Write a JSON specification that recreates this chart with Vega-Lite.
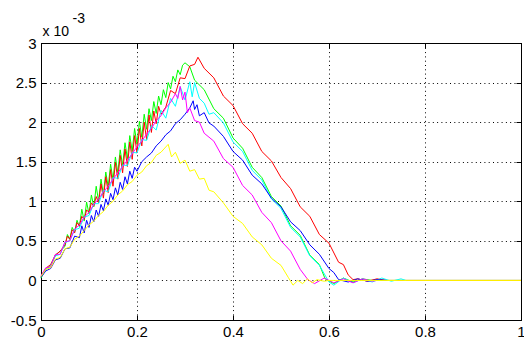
{
  "$schema": "https://vega.github.io/schema/vega-lite/v6.json",
  "width": 480,
  "height": 277,
  "autosize": {"type": "none"},
  "padding": {"left": 41, "top": 43, "right": 3, "bottom": 19},
  "background": "white",
  "config": {
    "view": {"stroke": "#000", "strokeWidth": 1},
    "axis": {
      "labelFont": "Liberation Sans",
      "labelFontSize": 15,
      "labelColor": "#000",
      "titleFont": "Liberation Sans",
      "titleFontWeight": "normal",
      "titleColor": "#000",
      "domainColor": "#000",
      "tickColor": "#000",
      "tickSize": -5,
      "gridColor": "#000",
      "gridOpacity": 1,
      "gridDash": [1, 3.3],
      "gridWidth": 1
    }
  },
  "datasets": {
    "green": [
      {"x": 0, "y": 0.03}, {"x": 0.01, "y": 0.14}, {"x": 0.02, "y": 0.19}, {"x": 0.03, "y": 0.32}, {"x": 0.04, "y": 0.37},
      {"x": 0.05, "y": 0.43}, {"x": 0.055, "y": 0.58}, {"x": 0.06, "y": 0.52}, {"x": 0.065, "y": 0.67}, {"x": 0.07, "y": 0.61},
      {"x": 0.075, "y": 0.76}, {"x": 0.08, "y": 0.68}, {"x": 0.085, "y": 0.9}, {"x": 0.09, "y": 0.75}, {"x": 0.095, "y": 0.99},
      {"x": 0.1, "y": 0.84}, {"x": 0.105, "y": 1.08}, {"x": 0.11, "y": 0.93}, {"x": 0.115, "y": 1.19}, {"x": 0.12, "y": 1.0},
      {"x": 0.125, "y": 1.28}, {"x": 0.13, "y": 1.09}, {"x": 0.135, "y": 1.37}, {"x": 0.14, "y": 1.18}, {"x": 0.145, "y": 1.47},
      {"x": 0.15, "y": 1.27}, {"x": 0.155, "y": 1.56}, {"x": 0.16, "y": 1.36}, {"x": 0.165, "y": 1.65}, {"x": 0.17, "y": 1.45},
      {"x": 0.175, "y": 1.74}, {"x": 0.18, "y": 1.54}, {"x": 0.185, "y": 1.83}, {"x": 0.19, "y": 1.63}, {"x": 0.195, "y": 1.92},
      {"x": 0.2, "y": 1.72}, {"x": 0.205, "y": 2.01}, {"x": 0.21, "y": 1.81}, {"x": 0.215, "y": 2.1}, {"x": 0.22, "y": 1.91},
      {"x": 0.225, "y": 2.17}, {"x": 0.23, "y": 2.02}, {"x": 0.235, "y": 2.26}, {"x": 0.24, "y": 2.11}, {"x": 0.245, "y": 2.33},
      {"x": 0.25, "y": 2.22}, {"x": 0.255, "y": 2.41}, {"x": 0.26, "y": 2.31}, {"x": 0.265, "y": 2.5}, {"x": 0.27, "y": 2.42},
      {"x": 0.275, "y": 2.58}, {"x": 0.28, "y": 2.51}, {"x": 0.285, "y": 2.66}, {"x": 0.29, "y": 2.6}, {"x": 0.295, "y": 2.72},
      {"x": 0.3, "y": 2.75}, {"x": 0.31, "y": 2.7}, {"x": 0.32, "y": 2.53}, {"x": 0.34, "y": 2.41}, {"x": 0.36, "y": 2.17},
      {"x": 0.38, "y": 2.05}, {"x": 0.4, "y": 1.8}, {"x": 0.42, "y": 1.67}, {"x": 0.44, "y": 1.43}, {"x": 0.46, "y": 1.3},
      {"x": 0.48, "y": 1.06}, {"x": 0.5, "y": 0.94}, {"x": 0.52, "y": 0.69}, {"x": 0.54, "y": 0.57}, {"x": 0.56, "y": 0.32},
      {"x": 0.58, "y": 0.2}, {"x": 0.592, "y": 0.02}, {"x": 0.61, "y": -0.04}, {"x": 0.63, "y": 0.03}, {"x": 0.65, "y": -0.02},
      {"x": 0.67, "y": 0.02}, {"x": 0.69, "y": 0}, {"x": 1, "y": 0}
    ],
    "red": [
      {"x": 0, "y": 0.05}, {"x": 0.01, "y": 0.155}, {"x": 0.02, "y": 0.2}, {"x": 0.03, "y": 0.32}, {"x": 0.04, "y": 0.37},
      {"x": 0.05, "y": 0.45}, {"x": 0.055, "y": 0.56}, {"x": 0.06, "y": 0.52}, {"x": 0.065, "y": 0.64}, {"x": 0.07, "y": 0.6},
      {"x": 0.075, "y": 0.73}, {"x": 0.08, "y": 0.69}, {"x": 0.085, "y": 0.81}, {"x": 0.09, "y": 0.77}, {"x": 0.095, "y": 0.89},
      {"x": 0.1, "y": 0.86}, {"x": 0.105, "y": 0.98}, {"x": 0.11, "y": 0.94}, {"x": 0.115, "y": 1.06}, {"x": 0.12, "y": 0.98},
      {"x": 0.125, "y": 1.22}, {"x": 0.13, "y": 1.04}, {"x": 0.135, "y": 1.31}, {"x": 0.14, "y": 1.11}, {"x": 0.145, "y": 1.4},
      {"x": 0.15, "y": 1.19}, {"x": 0.155, "y": 1.49}, {"x": 0.16, "y": 1.28}, {"x": 0.165, "y": 1.58}, {"x": 0.17, "y": 1.36},
      {"x": 0.175, "y": 1.66}, {"x": 0.18, "y": 1.44}, {"x": 0.185, "y": 1.75}, {"x": 0.19, "y": 1.53}, {"x": 0.195, "y": 1.83},
      {"x": 0.2, "y": 1.61}, {"x": 0.205, "y": 1.92}, {"x": 0.21, "y": 1.7}, {"x": 0.215, "y": 2.0}, {"x": 0.22, "y": 1.78},
      {"x": 0.225, "y": 2.09}, {"x": 0.23, "y": 1.87}, {"x": 0.235, "y": 2.14}, {"x": 0.24, "y": 1.98}, {"x": 0.245, "y": 2.2},
      {"x": 0.25, "y": 2.1}, {"x": 0.26, "y": 2.19}, {"x": 0.27, "y": 2.4}, {"x": 0.28, "y": 2.36}, {"x": 0.29, "y": 2.56},
      {"x": 0.3, "y": 2.55}, {"x": 0.31, "y": 2.71}, {"x": 0.32, "y": 2.73}, {"x": 0.327, "y": 2.82}, {"x": 0.34, "y": 2.68},
      {"x": 0.36, "y": 2.56}, {"x": 0.38, "y": 2.33}, {"x": 0.4, "y": 2.21}, {"x": 0.42, "y": 1.98}, {"x": 0.44, "y": 1.86},
      {"x": 0.46, "y": 1.63}, {"x": 0.48, "y": 1.51}, {"x": 0.5, "y": 1.3}, {"x": 0.52, "y": 1.16}, {"x": 0.54, "y": 0.93},
      {"x": 0.56, "y": 0.81}, {"x": 0.58, "y": 0.58}, {"x": 0.6, "y": 0.47}, {"x": 0.62, "y": 0.23}, {"x": 0.63, "y": 0.2},
      {"x": 0.64, "y": 0.07}, {"x": 0.65, "y": 0.01}, {"x": 0.66, "y": 0.02}, {"x": 0.68, "y": -0.01}, {"x": 0.7, "y": 0.02},
      {"x": 0.72, "y": 0}, {"x": 1, "y": 0}
    ],
    "cyan": [
      {"x": 0, "y": 0.04}, {"x": 0.01, "y": 0.14}, {"x": 0.02, "y": 0.18}, {"x": 0.03, "y": 0.31}, {"x": 0.04, "y": 0.33},
      {"x": 0.05, "y": 0.48}, {"x": 0.06, "y": 0.5}, {"x": 0.07, "y": 0.64}, {"x": 0.08, "y": 0.66}, {"x": 0.09, "y": 0.8},
      {"x": 0.1, "y": 0.82}, {"x": 0.11, "y": 0.97}, {"x": 0.12, "y": 0.97}, {"x": 0.13, "y": 1.14}, {"x": 0.14, "y": 1.12},
      {"x": 0.15, "y": 1.3}, {"x": 0.16, "y": 1.29}, {"x": 0.17, "y": 1.46}, {"x": 0.18, "y": 1.45}, {"x": 0.19, "y": 1.62},
      {"x": 0.2, "y": 1.61}, {"x": 0.21, "y": 1.78}, {"x": 0.22, "y": 1.77}, {"x": 0.23, "y": 1.96}, {"x": 0.24, "y": 1.9},
      {"x": 0.25, "y": 2.15}, {"x": 0.26, "y": 2.05}, {"x": 0.27, "y": 2.3}, {"x": 0.28, "y": 2.2}, {"x": 0.29, "y": 2.45},
      {"x": 0.3, "y": 2.28}, {"x": 0.31, "y": 2.51}, {"x": 0.315, "y": 2.32}, {"x": 0.32, "y": 2.5}, {"x": 0.33, "y": 2.3},
      {"x": 0.34, "y": 2.24}, {"x": 0.35, "y": 2.1}, {"x": 0.36, "y": 2.12}, {"x": 0.38, "y": 1.99}, {"x": 0.4, "y": 1.75},
      {"x": 0.42, "y": 1.63}, {"x": 0.44, "y": 1.39}, {"x": 0.46, "y": 1.27}, {"x": 0.48, "y": 1.03}, {"x": 0.5, "y": 0.91},
      {"x": 0.52, "y": 0.67}, {"x": 0.54, "y": 0.55}, {"x": 0.56, "y": 0.31}, {"x": 0.58, "y": 0.19}, {"x": 0.6, "y": -0.02},
      {"x": 0.61, "y": -0.06}, {"x": 0.63, "y": 0.03}, {"x": 0.65, "y": -0.03}, {"x": 0.67, "y": 0.02}, {"x": 0.69, "y": -0.02},
      {"x": 0.71, "y": 0.03}, {"x": 0.73, "y": -0.01}, {"x": 0.75, "y": 0.02}, {"x": 0.76, "y": 0}
    ],
    "blue": [
      {"x": 0, "y": 0.04}, {"x": 0.01, "y": 0.12}, {"x": 0.02, "y": 0.15}, {"x": 0.03, "y": 0.26}, {"x": 0.04, "y": 0.28},
      {"x": 0.05, "y": 0.4}, {"x": 0.06, "y": 0.41}, {"x": 0.07, "y": 0.56}, {"x": 0.08, "y": 0.54}, {"x": 0.085, "y": 0.69},
      {"x": 0.09, "y": 0.6}, {"x": 0.095, "y": 0.76}, {"x": 0.1, "y": 0.67}, {"x": 0.105, "y": 0.82}, {"x": 0.11, "y": 0.74},
      {"x": 0.115, "y": 0.89}, {"x": 0.12, "y": 0.81}, {"x": 0.125, "y": 0.96}, {"x": 0.13, "y": 0.88}, {"x": 0.135, "y": 1.03},
      {"x": 0.14, "y": 0.95}, {"x": 0.145, "y": 1.1}, {"x": 0.15, "y": 1.02}, {"x": 0.155, "y": 1.17}, {"x": 0.16, "y": 1.08},
      {"x": 0.165, "y": 1.24}, {"x": 0.17, "y": 1.15}, {"x": 0.175, "y": 1.31}, {"x": 0.18, "y": 1.22}, {"x": 0.185, "y": 1.38},
      {"x": 0.19, "y": 1.29}, {"x": 0.195, "y": 1.43}, {"x": 0.2, "y": 1.38}, {"x": 0.21, "y": 1.5}, {"x": 0.22, "y": 1.56},
      {"x": 0.23, "y": 1.61}, {"x": 0.24, "y": 1.7}, {"x": 0.25, "y": 1.76}, {"x": 0.26, "y": 1.84}, {"x": 0.27, "y": 1.89},
      {"x": 0.28, "y": 1.98}, {"x": 0.29, "y": 2.03}, {"x": 0.3, "y": 2.1}, {"x": 0.31, "y": 2.18}, {"x": 0.317, "y": 2.27},
      {"x": 0.32, "y": 2.16}, {"x": 0.325, "y": 2.22}, {"x": 0.33, "y": 2.08}, {"x": 0.34, "y": 2.12}, {"x": 0.35, "y": 1.99},
      {"x": 0.36, "y": 1.95}, {"x": 0.38, "y": 1.82}, {"x": 0.4, "y": 1.63}, {"x": 0.42, "y": 1.52}, {"x": 0.44, "y": 1.33},
      {"x": 0.46, "y": 1.22}, {"x": 0.48, "y": 1.04}, {"x": 0.5, "y": 0.93}, {"x": 0.52, "y": 0.74}, {"x": 0.54, "y": 0.63},
      {"x": 0.56, "y": 0.45}, {"x": 0.58, "y": 0.33}, {"x": 0.6, "y": 0.15}, {"x": 0.61, "y": 0.1}, {"x": 0.62, "y": 0.01},
      {"x": 0.64, "y": -0.02}, {"x": 0.66, "y": 0.02}, {"x": 0.68, "y": -0.01}, {"x": 0.7, "y": 0.01}, {"x": 0.72, "y": 0}
    ],
    "magenta": [
      {"x": 0, "y": 0.06}, {"x": 0.01, "y": 0.16}, {"x": 0.02, "y": 0.17}, {"x": 0.03, "y": 0.33}, {"x": 0.04, "y": 0.33},
      {"x": 0.05, "y": 0.49}, {"x": 0.06, "y": 0.5}, {"x": 0.07, "y": 0.65}, {"x": 0.08, "y": 0.7}, {"x": 0.09, "y": 0.8},
      {"x": 0.1, "y": 0.86}, {"x": 0.11, "y": 0.96}, {"x": 0.12, "y": 1.03}, {"x": 0.13, "y": 1.12}, {"x": 0.14, "y": 1.19},
      {"x": 0.15, "y": 1.28}, {"x": 0.16, "y": 1.36}, {"x": 0.17, "y": 1.44}, {"x": 0.18, "y": 1.52}, {"x": 0.19, "y": 1.6},
      {"x": 0.2, "y": 1.69}, {"x": 0.21, "y": 1.76}, {"x": 0.22, "y": 1.85}, {"x": 0.23, "y": 1.92}, {"x": 0.24, "y": 2.02},
      {"x": 0.25, "y": 2.08}, {"x": 0.26, "y": 2.18}, {"x": 0.27, "y": 2.25}, {"x": 0.28, "y": 2.36}, {"x": 0.285, "y": 2.3},
      {"x": 0.29, "y": 2.45}, {"x": 0.295, "y": 2.28}, {"x": 0.3, "y": 2.38}, {"x": 0.305, "y": 2.12}, {"x": 0.31, "y": 2.18},
      {"x": 0.32, "y": 2.02}, {"x": 0.33, "y": 2}, {"x": 0.34, "y": 1.86}, {"x": 0.36, "y": 1.76}, {"x": 0.38, "y": 1.54},
      {"x": 0.4, "y": 1.43}, {"x": 0.42, "y": 1.2}, {"x": 0.44, "y": 1.08}, {"x": 0.46, "y": 0.86}, {"x": 0.48, "y": 0.73},
      {"x": 0.5, "y": 0.5}, {"x": 0.52, "y": 0.37}, {"x": 0.54, "y": 0.14}, {"x": 0.556, "y": 0.01}, {"x": 0.57, "y": -0.04},
      {"x": 0.59, "y": 0.03}, {"x": 0.61, "y": -0.03}, {"x": 0.63, "y": 0.02}, {"x": 0.65, "y": -0.03}, {"x": 0.67, "y": 0.02},
      {"x": 0.69, "y": -0.01}, {"x": 0.7, "y": 0}
    ],
    "yellow": [
      {"x": 0, "y": 0.05}, {"x": 0.01, "y": 0.14}, {"x": 0.02, "y": 0.16}, {"x": 0.03, "y": 0.27}, {"x": 0.04, "y": 0.29},
      {"x": 0.05, "y": 0.4}, {"x": 0.06, "y": 0.42}, {"x": 0.07, "y": 0.52}, {"x": 0.08, "y": 0.56}, {"x": 0.09, "y": 0.63},
      {"x": 0.1, "y": 0.7}, {"x": 0.11, "y": 0.75}, {"x": 0.12, "y": 0.82}, {"x": 0.13, "y": 0.87}, {"x": 0.14, "y": 0.95},
      {"x": 0.15, "y": 1}, {"x": 0.16, "y": 1.08}, {"x": 0.17, "y": 1.13}, {"x": 0.18, "y": 1.21}, {"x": 0.19, "y": 1.25},
      {"x": 0.2, "y": 1.33}, {"x": 0.21, "y": 1.37}, {"x": 0.22, "y": 1.45}, {"x": 0.23, "y": 1.49}, {"x": 0.24, "y": 1.58},
      {"x": 0.25, "y": 1.62}, {"x": 0.265, "y": 1.72}, {"x": 0.272, "y": 1.56}, {"x": 0.28, "y": 1.62}, {"x": 0.29, "y": 1.48},
      {"x": 0.3, "y": 1.52}, {"x": 0.31, "y": 1.38}, {"x": 0.32, "y": 1.4}, {"x": 0.33, "y": 1.28}, {"x": 0.34, "y": 1.29},
      {"x": 0.35, "y": 1.14}, {"x": 0.36, "y": 1.12}, {"x": 0.38, "y": 0.98}, {"x": 0.4, "y": 0.81}, {"x": 0.42, "y": 0.72},
      {"x": 0.44, "y": 0.55}, {"x": 0.46, "y": 0.45}, {"x": 0.48, "y": 0.28}, {"x": 0.5, "y": 0.19}, {"x": 0.515, "y": 0.04},
      {"x": 0.525, "y": -0.06}, {"x": 0.535, "y": 0}, {"x": 0.545, "y": -0.04}, {"x": 0.555, "y": 0.02}, {"x": 0.565, "y": -0.03},
      {"x": 0.575, "y": 0.01}, {"x": 0.59, "y": -0.01}, {"x": 0.6, "y": 0}, {"x": 1, "y": 0}
    ]
  },
  "layer": [
    {
      "data": {"name": "green"},
      "mark": {"type": "line", "color": "#00ff00", "strokeWidth": 1},
      "encoding": {
        "x": {
          "field": "x", "type": "quantitative",
          "scale": {"domain": [0, 1], "nice": false, "zero": false},
          "axis": {
            "orient": "bottom", "values": [0, 0.2, 0.4, 0.6, 0.8, 1], "grid": true, "title": null,
            "labelExpr": "toString(datum.value)", "labelPadding": 9, "labelFlush": false, "labelOverlap": false
          }
        },
        "y": {
          "field": "y", "type": "quantitative",
          "scale": {"domain": [-0.5, 3], "nice": false, "zero": false},
          "axis": {
            "orient": "left", "values": [-0.5, 0, 0.5, 1, 1.5, 2, 2.5, 3], "grid": true,
            "labelExpr": "toString(datum.value)", "labelPadding": 10, "labelOverlap": false,
            "title": "x 10", "titleAngle": 0, "titleAlign": "left", "titleBaseline": "alphabetic",
            "titleX": 1, "titleY": -8, "titleFontSize": 14
          }
        }
      }
    },
    {
      "data": {"name": "red"},
      "mark": {"type": "line", "color": "#ff0000", "strokeWidth": 1},
      "encoding": {
        "x": {
          "field": "x", "type": "quantitative",
          "scale": {"domain": [0, 1], "nice": false, "zero": false},
          "axis": {
            "orient": "top", "values": [0, 0.2, 0.4, 0.6, 0.8, 1], "grid": false, "labels": false,
            "title": "-3", "titleX": 31, "titleY": -21, "titleAlign": "left", "titleBaseline": "alphabetic", "titleFontSize": 14
          }
        },
        "y": {
          "field": "y", "type": "quantitative",
          "scale": {"domain": [-0.5, 3], "nice": false, "zero": false},
          "axis": {"orient": "right", "values": [-0.5, 0, 0.5, 1, 1.5, 2, 2.5, 3], "grid": false, "labels": false, "title": null}
        }
      }
    },
    {
      "data": {"name": "cyan"},
      "mark": {"type": "line", "color": "#00ffff", "strokeWidth": 1},
      "encoding": {
        "x": {"field": "x", "type": "quantitative", "scale": {"domain": [0, 1], "nice": false, "zero": false}, "axis": null},
        "y": {"field": "y", "type": "quantitative", "scale": {"domain": [-0.5, 3], "nice": false, "zero": false}, "axis": null}
      }
    },
    {
      "data": {"name": "blue"},
      "mark": {"type": "line", "color": "#0000ff", "strokeWidth": 1},
      "encoding": {
        "x": {"field": "x", "type": "quantitative", "scale": {"domain": [0, 1], "nice": false, "zero": false}, "axis": null},
        "y": {"field": "y", "type": "quantitative", "scale": {"domain": [-0.5, 3], "nice": false, "zero": false}, "axis": null}
      }
    },
    {
      "data": {"name": "magenta"},
      "mark": {"type": "line", "color": "#ff00ff", "strokeWidth": 1},
      "encoding": {
        "x": {"field": "x", "type": "quantitative", "scale": {"domain": [0, 1], "nice": false, "zero": false}, "axis": null},
        "y": {"field": "y", "type": "quantitative", "scale": {"domain": [-0.5, 3], "nice": false, "zero": false}, "axis": null}
      }
    },
    {
      "data": {"name": "yellow"},
      "mark": {"type": "line", "color": "#ffff00", "strokeWidth": 1},
      "encoding": {
        "x": {"field": "x", "type": "quantitative", "scale": {"domain": [0, 1], "nice": false, "zero": false}, "axis": null},
        "y": {"field": "y", "type": "quantitative", "scale": {"domain": [-0.5, 3], "nice": false, "zero": false}, "axis": null}
      }
    }
  ],
  "resolve": {"axis": {"x": "independent", "y": "independent"}}
}
